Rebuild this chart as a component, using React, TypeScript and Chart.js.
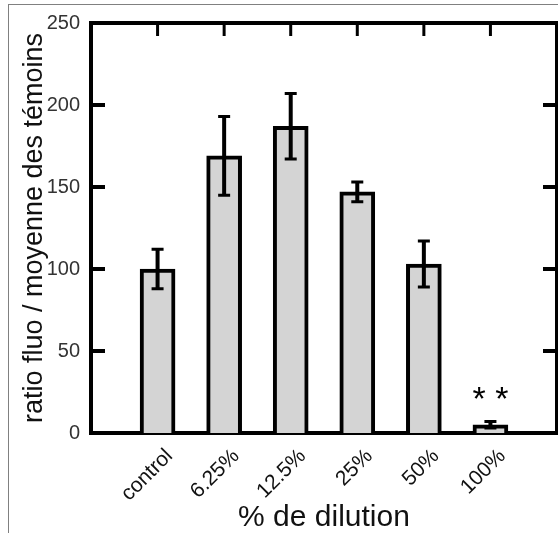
import React, { useEffect, useRef } from "react";
import { Chart, registerables } from "chart.js";

Chart.register(...registerables);

const categories = ["control", "6.25%", "12.5%", "25%", "50%", "100%"];
const means = [100, 169, 187, 147, 103, 5];
const errors = [12, 24, 20, 6, 14, 2];
const significance = ["", "", "", "", "", "* *"];
const yTicks = [0, 50, 100, 150, 200, 250];

const FONT = "'Liberation Sans', Arial, sans-serif";

const decorations = {
  id: "decorations",
  afterDatasetsDraw(chart: any) {
    const { ctx, chartArea, scales } = chart;
    const { left, right, top, bottom } = chartArea;
    const x = scales.x;
    const y = scales.y;
    ctx.save();
    ctx.strokeStyle = "#000";
    ctx.lineCap = "butt";
    ctx.lineWidth = 4;
    ctx.beginPath();
    ctx.moveTo(left - 2, top);
    ctx.lineTo(right + 2, top);
    ctx.moveTo(right, top);
    ctx.lineTo(right, bottom + 2);
    ctx.stroke();
    ctx.lineWidth = 4;
    yTicks.forEach((v) => {
      if (v === 0 || v === 250) return;
      const py = y.getPixelForValue(v);
      ctx.beginPath();
      ctx.moveTo(left, py);
      ctx.lineTo(left + 14, py);
      ctx.moveTo(right, py);
      ctx.lineTo(right - 14, py);
      ctx.stroke();
    });
    ctx.lineWidth = 3;
    categories.forEach((_, i) => {
      const px = x.getPixelForValue(i + 1);
      ctx.beginPath();
      ctx.moveTo(px, top);
      ctx.lineTo(px, top + 13);
      ctx.stroke();
    });
    const meta = chart.getDatasetMeta(0);
    meta.data.forEach((el: any, i: number) => {
      const px = el.x;
      const yHi = y.getPixelForValue(means[i] + errors[i]);
      const yLo = y.getPixelForValue(means[i] - errors[i]);
      ctx.lineWidth = 4;
      ctx.beginPath();
      ctx.moveTo(px, yHi);
      ctx.lineTo(px, yLo);
      ctx.stroke();
      ctx.lineWidth = 3;
      ctx.beginPath();
      ctx.moveTo(px - 6, yHi);
      ctx.lineTo(px + 6, yHi);
      ctx.moveTo(px - 6, yLo);
      ctx.lineTo(px + 6, yLo);
      ctx.stroke();
      if (significance[i]) {
        ctx.fillStyle = "#000";
        ctx.font = `34px ${FONT}`;
        ctx.textAlign = "center";
        ctx.textBaseline = "alphabetic";
        ctx.fillText(significance[i], px, yHi - 12);
      }
    });
    ctx.restore();
  },
};

export default function App() {
  const ref = useRef<HTMLCanvasElement>(null);
  useEffect(() => {
    if (!ref.current) return;
    const chart = new Chart(ref.current, {
      type: "bar",
      data: {
        datasets: [
          {
            data: means.map((m, i) => ({ x: i + 1, y: m })),
            backgroundColor: "#d4d4d4",
            borderColor: "#000",
            borderWidth: 4,
            barThickness: 35,
          },
        ],
      },
      options: {
        responsive: false,
        animation: false,
        devicePixelRatio: 1,
        layout: { padding: { top: 18, right: 1, left: 0, bottom: 0 } },
        plugins: { legend: { display: false }, tooltip: { enabled: false } },
        scales: {
          x: {
            type: "linear",
            min: 0,
            max: 7,
            offset: false,
            grid: { display: false, drawTicks: false, offset: false },
            border: { display: true, color: "#000", width: 4 },
            ticks: {
              stepSize: 1,
              autoSkip: false,
              maxRotation: 45,
              minRotation: 45,
              labelOffset: 12,
              padding: 11,
              color: "#111",
              font: { family: FONT, size: 21 },
              callback: (v: any) => categories[Number(v) - 1] ?? "",
            },
            title: {
              display: true,
              text: "% de dilution",
              color: "#111",
              font: { family: FONT, size: 30 },
              padding: { top: 0, bottom: -3 },
            },
            afterFit: (s: any) => {
              s.height = 100;
              s.paddingLeft = 0;
              s.paddingRight = 0;
            },
          },
          y: {
            min: 0,
            max: 250,
            grid: { display: false, drawTicks: false },
            border: { display: true, color: "#000", width: 4 },
            ticks: {
              stepSize: 50,
              padding: 11,
              color: "#333",
              font: { family: FONT, size: 20 },
            },
            title: {
              display: true,
              text: "ratio fluo / moyenne des témoins",
              color: "#111",
              font: { family: FONT, size: 27 },
              padding: { top: 18, bottom: 0 },
            },
            afterFit: (s: any) => {
              s.width = 91;
            },
          },
        },
      },
      plugins: [decorations],
    } as any);
    return () => chart.destroy();
  }, []);
  return (
    <div style={{ position: "fixed", left: 0, top: 0, width: 558, height: 533, background: "#fff" }}>
      <div
        style={{
          position: "absolute",
          left: 8,
          top: 4,
          width: 550,
          height: 529,
          borderTop: "1px solid #808080",
          borderLeft: "1px solid #808080",
          boxSizing: "border-box",
        }}
      />
      <canvas ref={ref} width={558} height={533} style={{ position: "absolute", left: 0, top: 0 }} />
    </div>
  );
}
